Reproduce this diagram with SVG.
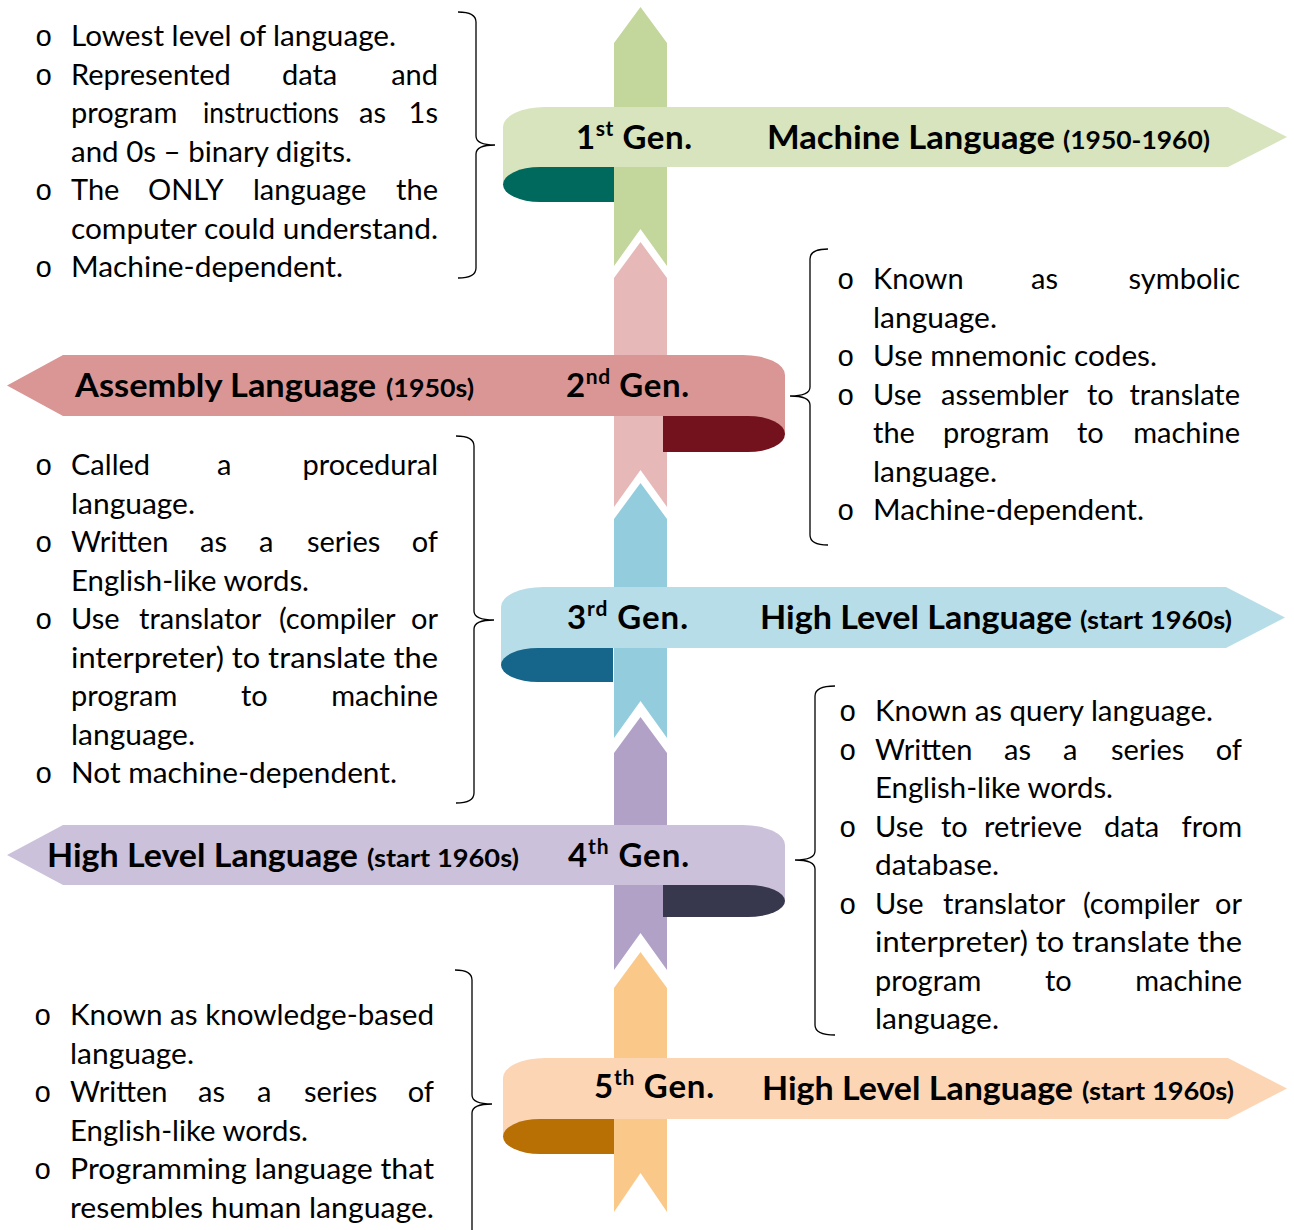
<svg xmlns="http://www.w3.org/2000/svg" width="1294" height="1230" viewBox="0 0 1294 1230">
  <style>
    text { font-family: Lato, "Liberation Sans", sans-serif; fill: #000; }
    .b { font-size: 29px; }
    .r { font-size: 29px; text-anchor: end; }
    .bul { font-family: "Liberation Mono", "DejaVu Sans Mono", monospace; font-size: 29px; }
    .gen { font-size: 33px; font-weight: bold; }
    .sup { font-size: 21px; }
    .ttl { font-size: 33px; font-weight: bold; }
    .yr { font-size: 25px; font-weight: bold; }
    .brace { fill: none; stroke: #000; stroke-width: 1.3; }
  </style>

  <!-- vertical timeline: one chevron segment per generation -->
  <g id="timeline">
    <path d="M614,43 L640.5,7 L667,43 V266 L640.5,229 L614,266 Z" fill="#C3D69B"/>
    <path d="M614,278 L640.5,242 L667,278 V507 L640.5,470 L614,507 Z" fill="#E6B9B8"/>
    <path d="M614,519 L640.5,483 L667,519 V738 L640.5,701 L614,738 Z" fill="#93CDDD"/>
    <path d="M614,753 L640.5,717 L667,753 V970 L640.5,933 L614,970 Z" fill="#B2A1C7"/>
    <path d="M614,988 L640.5,952 L667,988 V1212 L640.5,1173 L614,1212 Z" fill="#FAC98A"/>
  </g>

  <!-- 1st generation banner -->
  <g id="gen1">
    <path d="M503,185 V127 A42,20 0 0 1 545,107 H1228 L1287,137 L1228,167 H614 V185 Z" fill="#D7E4BD"/>
    <path d="M614,167 H540 A37,17.5 0 0 0 540,202 H614 Z" fill="#00695E"/>
    <text class="gen" x="576" y="149" textLength="116">1<tspan class="sup" dy="-13">st</tspan><tspan dy="13"> Gen.</tspan></text>
    <text class="ttl" x="767" y="149" textLength="288" lengthAdjust="spacingAndGlyphs">Machine Language</text>
    <text class="yr" x="1063" y="149" textLength="147" lengthAdjust="spacingAndGlyphs">(1950-1960)</text>
  </g>

  <!-- 2nd generation banner -->
  <g id="gen2">
    <path d="M785,434 V375 A42,20 0 0 0 743,355 H63 L7,385.5 L63,416 H663 V434 Z" fill="#D99694"/>
    <path d="M663,416 H748 A37,18 0 0 1 748,452 H663 Z" fill="#73121D"/>
    <text class="ttl" x="75" y="397" textLength="301" lengthAdjust="spacingAndGlyphs">Assembly Language</text>
    <text class="yr" x="386" y="397" textLength="88" lengthAdjust="spacingAndGlyphs">(1950s)</text>
    <text class="gen" x="566" y="397" textLength="123">2<tspan class="sup" dy="-13">nd</tspan><tspan dy="13"> Gen.</tspan></text>
  </g>

  <!-- 3rd generation banner -->
  <g id="gen3">
    <path d="M501,665 V607 A42,20 0 0 1 543,587 H1226 L1285,617.5 L1226,648 H613 V665 Z" fill="#B7DEE8"/>
    <path d="M613,648 H538 A37,17 0 0 0 538,682 H613 Z" fill="#16658A"/>
    <text class="gen" x="567" y="629" textLength="121">3<tspan class="sup" dy="-13">rd</tspan><tspan dy="13"> Gen.</tspan></text>
    <text class="ttl" x="760" y="629" textLength="312" lengthAdjust="spacingAndGlyphs">High Level Language</text>
    <text class="yr" x="1080" y="629" textLength="152" lengthAdjust="spacingAndGlyphs">(start 1960s)</text>
  </g>

  <!-- 4th generation banner -->
  <g id="gen4">
    <path d="M785,901 V845 A42,20 0 0 0 743,825 H63 L7,855 L63,885 H663 V901 Z" fill="#CCC1DA"/>
    <path d="M663,885 H748 A37,16 0 0 1 748,917 H663 Z" fill="#37374D"/>
    <text class="ttl" x="47" y="867" textLength="311" lengthAdjust="spacingAndGlyphs">High Level Language</text>
    <text class="yr" x="367" y="867" textLength="152" lengthAdjust="spacingAndGlyphs">(start 1960s)</text>
    <text class="gen" x="568" y="867" textLength="121">4<tspan class="sup" dy="-13">th</tspan><tspan dy="13"> Gen.</tspan></text>
  </g>

  <!-- 5th generation banner -->
  <g id="gen5">
    <path d="M503,1136 V1078 A42,20 0 0 1 545,1058 H1228 L1287,1088.5 L1228,1119 H614 V1136 Z" fill="#FCD5B5"/>
    <path d="M614,1119 H540 A37,17.5 0 0 0 540,1154 H614 Z" fill="#B86F04"/>
    <text class="gen" x="594" y="1098" textLength="120">5<tspan class="sup" dy="-13">th</tspan><tspan dy="13"> Gen.</tspan></text>
    <text class="ttl" x="762" y="1100" textLength="311" lengthAdjust="spacingAndGlyphs">High Level Language</text>
    <text class="yr" x="1082" y="1100" textLength="152" lengthAdjust="spacingAndGlyphs">(start 1960s)</text>
  </g>

  <!-- braces tying each description to its banner -->
  <g id="connectors">
    <path class="brace" d="M458,12 Q476,12 476,22 V136 Q476,145 495,145 Q476,145 476,154 V268 Q476,278 458,278"/>
    <path class="brace" d="M828,249 Q810,249 810,259 V387 Q810,396 790,396 Q810,396 810,405 V535 Q810,545 828,545"/>
    <path class="brace" d="M456,436 Q474,436 474,446 V611 Q474,620 494,620 Q474,620 474,629 V793 Q474,803 456,803"/>
    <path class="brace" d="M835,686 Q815,686 815,696 V851 Q815,860 795,860 Q815,860 815,869 V1025 Q815,1035 835,1035"/>
    <path class="brace" d="M455,970 Q472,970 472,980 V1095 Q472,1104 492,1104 Q472,1104 472,1113 V1240"/>
  </g>

  <!-- 1st generation notes -->
  <g id="notes1">
    <text class="bul" x="35" y="46">o</text>
    <text class="b" x="71" y="46" textLength="325" lengthAdjust="spacingAndGlyphs">Lowest level of language.</text>
    <text class="bul" x="35" y="84.5">o</text>
    <text class="b" y="84.5"><tspan x="71">Represented</tspan><tspan x="282">data</tspan></text>
    <text class="r" x="438" y="84.5">and</text>
    <text class="b" y="123"><tspan x="71">program</tspan><tspan x="203" textLength="136" lengthAdjust="spacingAndGlyphs">instructions</tspan><tspan x="359">as</tspan></text>
    <text class="r" x="438" y="123">1s</text>
    <text class="b" x="71" y="161.5" textLength="281" lengthAdjust="spacingAndGlyphs">and 0s – binary digits.</text>
    <text class="bul" x="35" y="200">o</text>
    <text class="b" y="200"><tspan x="71">The</tspan><tspan x="148">ONLY</tspan><tspan x="253">language</tspan></text>
    <text class="r" x="438" y="200">the</text>
    <text class="b" x="71" y="238.5" textLength="367" lengthAdjust="spacingAndGlyphs">computer could understand.</text>
    <text class="bul" x="35" y="277">o</text>
    <text class="b" x="71" y="277" textLength="272" lengthAdjust="spacingAndGlyphs">Machine-dependent.</text>
  </g>

  <!-- 2nd generation notes -->
  <g id="notes2">
    <text class="bul" x="837" y="289">o</text>
    <text class="b" y="289"><tspan x="873">Known</tspan><tspan x="1031">as</tspan></text>
    <text class="r" x="1240" y="289">symbolic</text>
    <text class="b" x="873" y="327.5" textLength="124" lengthAdjust="spacingAndGlyphs">language.</text>
    <text class="bul" x="837" y="366">o</text>
    <text class="b" x="873" y="366" textLength="284" lengthAdjust="spacingAndGlyphs">Use mnemonic codes.</text>
    <text class="bul" x="837" y="404.5">o</text>
    <text class="b" y="404.5"><tspan x="873">Use</tspan><tspan x="941">assembler</tspan><tspan x="1087">to</tspan></text>
    <text class="r" x="1240" y="404.5">translate</text>
    <text class="b" y="443"><tspan x="873">the</tspan><tspan x="943">program</tspan><tspan x="1077">to</tspan></text>
    <text class="r" x="1240" y="443">machine</text>
    <text class="b" x="873" y="481.5" textLength="124" lengthAdjust="spacingAndGlyphs">language.</text>
    <text class="bul" x="837" y="520">o</text>
    <text class="b" x="873" y="520" textLength="271" lengthAdjust="spacingAndGlyphs">Machine-dependent.</text>
  </g>

  <!-- 3rd generation notes -->
  <g id="notes3">
    <text class="bul" x="35" y="475">o</text>
    <text class="b" y="475"><tspan x="71">Called</tspan><tspan x="217">a</tspan></text>
    <text class="r" x="438" y="475">procedural</text>
    <text class="b" x="71" y="513.5" textLength="124" lengthAdjust="spacingAndGlyphs">language.</text>
    <text class="bul" x="35" y="552">o</text>
    <text class="b" y="552"><tspan x="71">Written</tspan><tspan x="200">as</tspan><tspan x="259">a</tspan><tspan x="307">series</tspan></text>
    <text class="r" x="438" y="552">of</text>
    <text class="b" x="71" y="590.5" textLength="238" lengthAdjust="spacingAndGlyphs">English-like words.</text>
    <text class="bul" x="35" y="629">o</text>
    <text class="b" y="629"><tspan x="71">Use</tspan><tspan x="139">translator</tspan><tspan x="279">(compiler</tspan></text>
    <text class="r" x="438" y="629">or</text>
    <text class="b" x="71" y="667.5" textLength="367" lengthAdjust="spacingAndGlyphs">interpreter) to translate the</text>
    <text class="b" y="706"><tspan x="71">program</tspan><tspan x="241">to</tspan></text>
    <text class="r" x="438" y="706">machine</text>
    <text class="b" x="71" y="744.5" textLength="124" lengthAdjust="spacingAndGlyphs">language.</text>
    <text class="bul" x="35" y="783">o</text>
    <text class="b" x="71" y="783" textLength="326" lengthAdjust="spacingAndGlyphs">Not machine-dependent.</text>
  </g>

  <!-- 4th generation notes -->
  <g id="notes4">
    <text class="bul" x="839" y="721">o</text>
    <text class="b" x="875" y="721" textLength="338" lengthAdjust="spacingAndGlyphs">Known as query language.</text>
    <text class="bul" x="839" y="759.5">o</text>
    <text class="b" y="759.5"><tspan x="875">Written</tspan><tspan x="1004">as</tspan><tspan x="1063">a</tspan><tspan x="1111">series</tspan></text>
    <text class="r" x="1242" y="759.5">of</text>
    <text class="b" x="875" y="798" textLength="238" lengthAdjust="spacingAndGlyphs">English-like words.</text>
    <text class="bul" x="839" y="836.5">o</text>
    <text class="b" y="836.5"><tspan x="875">Use</tspan><tspan x="941">to</tspan><tspan x="984">retrieve</tspan><tspan x="1104">data</tspan></text>
    <text class="r" x="1242" y="836.5">from</text>
    <text class="b" x="875" y="875" textLength="124" lengthAdjust="spacingAndGlyphs">database.</text>
    <text class="bul" x="839" y="913.5">o</text>
    <text class="b" y="913.5"><tspan x="875">Use</tspan><tspan x="943">translator</tspan><tspan x="1083">(compiler</tspan></text>
    <text class="r" x="1242" y="913.5">or</text>
    <text class="b" x="875" y="952" textLength="367" lengthAdjust="spacingAndGlyphs">interpreter) to translate the</text>
    <text class="b" y="990.5"><tspan x="875">program</tspan><tspan x="1045">to</tspan></text>
    <text class="r" x="1242" y="990.5">machine</text>
    <text class="b" x="875" y="1029" textLength="124" lengthAdjust="spacingAndGlyphs">language.</text>
  </g>

  <!-- 5th generation notes -->
  <g id="notes5">
    <text class="bul" x="34" y="1025">o</text>
    <text class="b" x="70" y="1025" textLength="364" lengthAdjust="spacingAndGlyphs">Known as knowledge-based</text>
    <text class="b" x="70" y="1063.5" textLength="124" lengthAdjust="spacingAndGlyphs">language.</text>
    <text class="bul" x="34" y="1102">o</text>
    <text class="b" y="1102"><tspan x="70">Written</tspan><tspan x="198">as</tspan><tspan x="257">a</tspan><tspan x="304">series</tspan></text>
    <text class="r" x="434" y="1102">of</text>
    <text class="b" x="70" y="1140.5" textLength="238" lengthAdjust="spacingAndGlyphs">English-like words.</text>
    <text class="bul" x="34" y="1179">o</text>
    <text class="b" x="70" y="1179" textLength="364" lengthAdjust="spacingAndGlyphs">Programming language that</text>
    <text class="b" x="70" y="1217.5" textLength="364" lengthAdjust="spacingAndGlyphs">resembles human language.</text>
  </g>
</svg>
